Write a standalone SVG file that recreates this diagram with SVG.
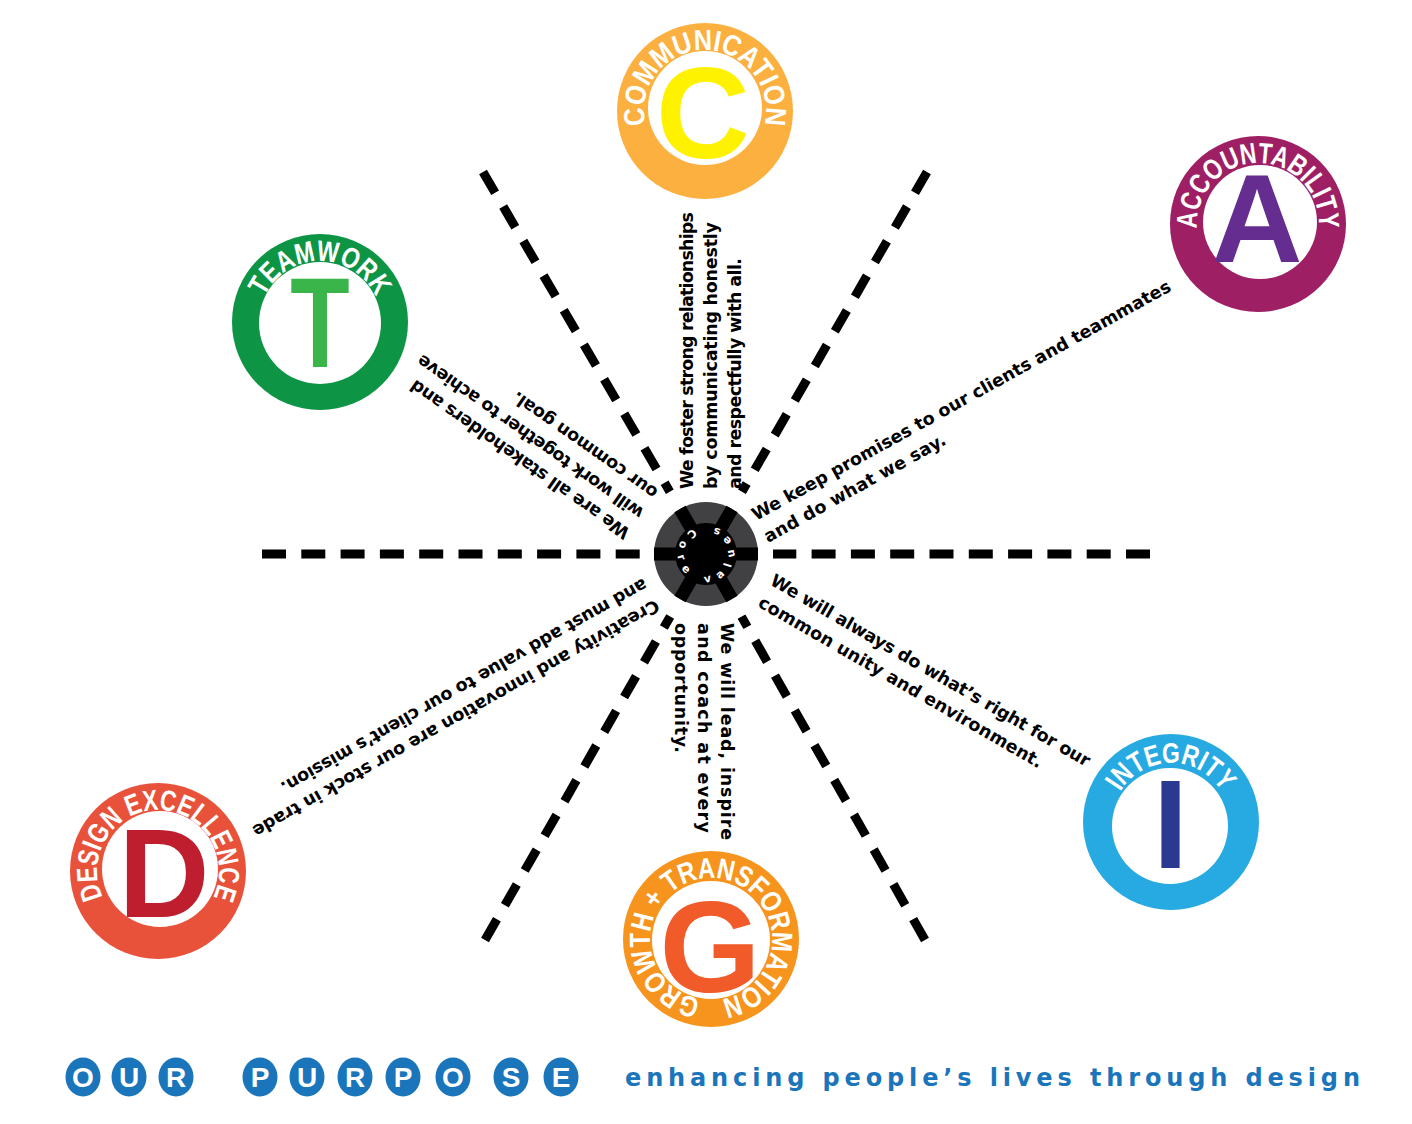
<svg xmlns="http://www.w3.org/2000/svg" width="1412" height="1124" viewBox="0 0 1412 1124">
<style>
.body{font-family:"DejaVu Sans","Liberation Sans",sans-serif;font-weight:bold;font-size:17.5px;fill:#000}
.ring{font-family:"Liberation Sans",Arial,sans-serif;font-weight:bold;font-size:29px;fill:#fff}
.big{font-family:"Liberation Sans",Arial,sans-serif;font-weight:bold;text-anchor:middle}
.hub{font-family:"DejaVu Sans",sans-serif;font-weight:bold;font-size:11px;fill:#fff;letter-spacing:8px}
.bub{fill:#1B75BB}
.bubt{font-family:"Liberation Sans",Arial,sans-serif;font-weight:bold;font-size:28px;fill:#fff;text-anchor:middle}
.dh{stroke:#000;stroke-width:9;fill:none;stroke-dasharray:24 15.3}
.dd{stroke:#000;stroke-width:9;fill:none;stroke-dasharray:24 16}
</style>
<defs>
<path id="pC" d="M705,172 A61,61 0 1 1 705,50 A61,61 0 1 1 705,172"/>
<path id="pA" d="M1258,285 A61,61 0 1 1 1258,163 A61,61 0 1 1 1258,285"/>
<path id="pT" d="M320,383 A61,61 0 1 1 320,261 A61,61 0 1 1 320,383"/>
<path id="pD" d="M158,932 A61,61 0 1 1 158,810 A61,61 0 1 1 158,932"/>
<path id="pG" d="M711,1000 A61,61 0 1 1 711,878 A61,61 0 1 1 711,1000"/>
<path id="pI" d="M1171,881 A59,59 0 1 1 1171,763 A59,59 0 1 1 1171,881"/>
<path id="pHub" d="M692.85,529.28 A28,28 0 1 0 719.15,578.72 A28,28 0 1 0 692.85,529.28"/>
</defs>
<rect width="1412" height="1124" fill="#fff"/>

<g id="connectors">
<path class="dh" d="M262,554 H640"/>
<path class="dh" d="M1150,554 H773"/>
<path class="dd" d="M483,172 L669.8,491.7"/>
<path class="dd" d="M927,172 L742,491.7"/>
<path class="dd" d="M485,940 L670.2,616.5"/>
<path class="dd" d="M925,940 L741.5,616.6"/>
</g>

<g id="hub">
<circle cx="706" cy="554" r="52" fill="#414042"/>
<g stroke="#000" stroke-width="13">
<line x1="654" y1="554" x2="758" y2="554"/>
<line x1="680" y1="509" x2="732" y2="599"/>
<line x1="732" y1="509" x2="680" y2="599"/>
</g>
<circle cx="706" cy="554" r="31" fill="#000"/>
<text class="hub"><textPath href="#pHub">Core values</textPath></text>
</g>

<g id="node-communication">
<circle cx="705" cy="111" r="88" fill="#FBB040"/>
<circle cx="705" cy="108" r="57" fill="#fff"/>
<text class="big" x="703" y="158" font-size="130" fill="#FFF200">C</text>
<text class="ring"><textPath href="#pC" startOffset="50%" text-anchor="middle" textLength="220" lengthAdjust="spacingAndGlyphs">COMMUNICATION</textPath></text>
<text class="body" transform="translate(693,489) rotate(-90)" textLength="277" lengthAdjust="spacing">We foster strong relationships</text>
<text class="body" transform="translate(717,489) rotate(-90)" textLength="267" lengthAdjust="spacing">by communicating honestly</text>
<text class="body" transform="translate(741,489) rotate(-90)" textLength="231" lengthAdjust="spacing">and respectfully with all.</text>
</g>

<g id="node-accountability">
<circle cx="1258" cy="224" r="88" fill="#9E1F63"/>
<circle cx="1260" cy="222" r="57" fill="#fff"/>
<text class="big" x="1257" y="262" font-size="126" fill="#662D91">A</text>
<text class="ring"><textPath href="#pA" startOffset="50%" text-anchor="middle" textLength="200" lengthAdjust="spacingAndGlyphs">ACCOUNTABILITY</textPath></text>
<text class="body" transform="translate(756,521) rotate(-29)" textLength="476" lengthAdjust="spacing">We keep promises to our clients and teammates</text>
<text class="body" transform="translate(768,543) rotate(-29)" textLength="205" lengthAdjust="spacing">and do what we say.</text>
</g>

<g id="node-teamwork">
<circle cx="320" cy="322" r="88" fill="#0D9444"/>
<circle cx="320" cy="323" r="61" fill="#fff"/>
<text class="big" transform="translate(320,367) scale(0.76,1)" font-size="128" fill="#39B54A">T</text>
<text class="ring"><textPath href="#pT" startOffset="50%" text-anchor="middle" textLength="140" lengthAdjust="spacingAndGlyphs">TEAMWORK</textPath></text>
<text class="body" transform="translate(631,530) rotate(215)" textLength="263" lengthAdjust="spacing">We are all stakeholders and</text>
<text class="body" transform="translate(645,510) rotate(215)" textLength="272" lengthAdjust="spacing">will work together to achieve</text>
<text class="body" transform="translate(659,490) rotate(215)" textLength="173" lengthAdjust="spacing">our common goal.</text>
</g>

<g id="node-design-excellence">
<circle cx="158" cy="871" r="88" fill="#E9523A"/>
<circle cx="160" cy="869" r="58" fill="#fff"/>
<text class="big" x="164" y="917" font-size="126" fill="#BE1E2D">D</text>
<text class="ring"><textPath href="#pD" startOffset="50%" text-anchor="middle" textLength="246" lengthAdjust="spacingAndGlyphs">DESIGN EXCELLENCE</textPath></text>
<text class="body" transform="translate(655,599) rotate(150.5)" textLength="464" lengthAdjust="spacing">Creativity and innovation are our stock in trade</text>
<text class="body" transform="translate(643,578) rotate(150.5)" textLength="418" lengthAdjust="spacing">and must add value to our client’s mission.</text>
</g>

<g id="node-growth">
<circle cx="711" cy="939" r="88" fill="#F7941D"/>
<circle cx="711" cy="940" r="59" fill="#fff"/>
<text class="big" x="710" y="992" font-size="130" fill="#F15A29">G</text>
<text class="ring"><textPath href="#pG" startOffset="50%" text-anchor="middle" textLength="362" lengthAdjust="spacingAndGlyphs">GROWTH + TRANSFORMATION</textPath></text>
<text class="body" transform="translate(721,623) rotate(90)" textLength="217" lengthAdjust="spacing">We will lead, inspire</text>
<text class="body" transform="translate(698,623) rotate(90)" textLength="210" lengthAdjust="spacing">and coach at every</text>
<text class="body" transform="translate(675,623) rotate(90)" textLength="130" lengthAdjust="spacing">opportunity.</text>
</g>

<g id="node-integrity">
<circle cx="1171" cy="822" r="88" fill="#27AAE1"/>
<circle cx="1170" cy="826" r="58" fill="#fff"/>
<text class="big" x="1170.5" y="868" font-size="126" fill="#2B3990">I</text>
<text class="ring"><textPath href="#pI" startOffset="50%" text-anchor="middle" textLength="122" lengthAdjust="spacingAndGlyphs">INTEGRITY</textPath></text>
<text class="body" transform="translate(769,584) rotate(30)" textLength="366" lengthAdjust="spacing">We will always do what’s right for our</text>
<text class="body" transform="translate(757,606) rotate(30)" textLength="325" lengthAdjust="spacing">common unity and environment.</text>
</g>

<g id="purpose">
<ellipse class="bub" cx="83" cy="1077" rx="17.5" ry="19.5"/>
<ellipse class="bub" cx="129" cy="1077" rx="17.5" ry="19.5"/>
<ellipse class="bub" cx="176" cy="1077" rx="17.5" ry="19.5"/>
<ellipse class="bub" cx="260" cy="1077" rx="17.5" ry="19.5"/>
<ellipse class="bub" cx="307" cy="1077" rx="17.5" ry="19.5"/>
<ellipse class="bub" cx="355" cy="1077" rx="17.5" ry="19.5"/>
<ellipse class="bub" cx="403" cy="1077" rx="17.5" ry="19.5"/>
<ellipse class="bub" cx="453" cy="1077" rx="17.5" ry="19.5"/>
<ellipse class="bub" cx="511" cy="1077" rx="17.5" ry="19.5"/>
<ellipse class="bub" cx="561" cy="1077" rx="17.5" ry="19.5"/>
<text class="bubt" y="1087"><tspan x="83">O</tspan><tspan x="129">U</tspan><tspan x="176">R</tspan><tspan x="260">P</tspan><tspan x="307">U</tspan><tspan x="355">R</tspan><tspan x="403">P</tspan><tspan x="453">O</tspan><tspan x="511">S</tspan><tspan x="561">E</tspan></text>
<text x="625" y="1086" font-family="DejaVu Sans, Liberation Sans, sans-serif" font-weight="bold" font-size="24" fill="#1B75BB" textLength="735" lengthAdjust="spacing">enhancing people’s lives through design</text>
</g>
</svg>
